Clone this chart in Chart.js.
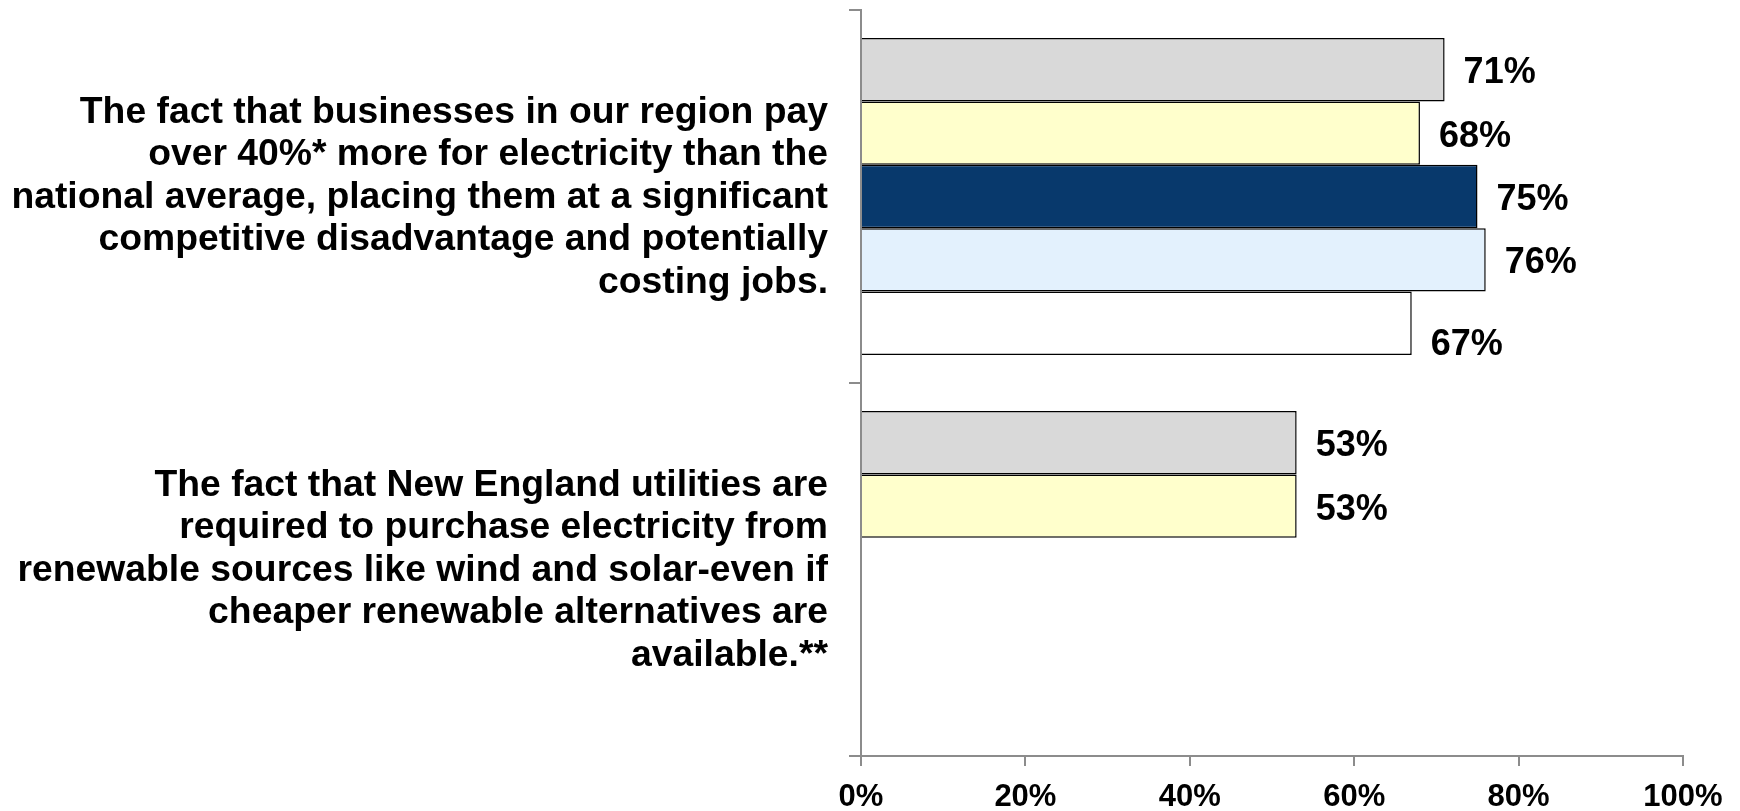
<!DOCTYPE html>
<html>
<head>
<meta charset="utf-8">
<script src="https://cdn.jsdelivr.net/npm/chart.js@4"></script>
<style>
  html, body { margin: 0; padding: 0; background: #ffffff; }
  #wrap { width: 1740px; height: 811px; }
</style>
</head>
<body>
<div id="wrap"><canvas id="chart" width="1740" height="811"></canvas></div>
<script>
// Statements (each one drawn as a multi-line category label)
const statements = [
  ["The fact that businesses in our region pay",
   "over 40%* more for electricity than the",
   "national average, placing them at a significant",
   "competitive disadvantage and potentially",
   "costing jobs."],
  ["The fact that New England utilities are",
   "required to purchase electricity from",
   "renewable sources like wind and solar-even if",
   "cheaper renewable alternatives are",
   "available.**"]
];

// Share of respondents (%) per group
const group1 = [71, 53];
const group2 = [68, 53];
const group3 = [75, null];
const group4 = [76, null];
const group5 = [67, null];

const xTicks = [0, 20, 40, 60, 80, 100];

const FONT = '"Liberation Sans", Arial, Helvetica, sans-serif';
const AXIS_GREY = '#8c8c8c';

// Percent labels just past the end of each bar
const valueLabels = {
  id: 'valueLabels',
  afterDatasetsDraw(chart, args, opts) {
    const ctx = chart.ctx;
    ctx.save();
    ctx.font = 'bold 36px ' + FONT;
    ctx.fillStyle = '#000000';
    ctx.textAlign = 'left';
    ctx.textBaseline = 'alphabetic';
    chart.data.datasets.forEach((ds, i) => {
      const meta = chart.getDatasetMeta(i);
      const shift = (opts.shiftY && opts.shiftY[i]) || 0;
      meta.data.forEach((bar, j) => {
        const v = ds.data[j];
        if (v === null || v === undefined) return;
        const p = bar.getProps(['x', 'y'], true);
        ctx.fillText(v + '%', p.x + 19, p.y + 13.5 + shift);
      });
    });
    ctx.restore();
  }
};

const mkSet = (label, data, fill) => ({
  label, data,
  backgroundColor: fill,
  borderColor: '#000000',
  borderWidth: 1.5,
  borderSkipped: 'start'
});

new Chart(document.getElementById('chart'), {
  type: 'bar',
  data: {
    labels: statements,
    datasets: [
      mkSet('Group 1', group1, '#d9d9d9'),
      mkSet('Group 2', group2, '#ffffcc'),
      mkSet('Group 3', group3, '#08396c'),
      mkSet('Group 4', group4, '#e3f1fd'),
      mkSet('Group 5', group5, '#ffffff')
    ]
  },
  options: {
    indexAxis: 'y',
    responsive: false,
    animation: false,
    devicePixelRatio: 1,
    layout: { padding: { top: 10, right: 57, left: 0, bottom: 0 } },
    datasets: { bar: { categoryPercentage: 0.85, barPercentage: 1.0 } },
    plugins: {
      legend: { display: false },
      tooltip: { enabled: false },
      valueLabels: { shiftY: [0, 0, 0, 0, 18] }
    },
    scales: {
      x: {
        type: 'linear',
        min: 0, max: 100,
        afterBuildTicks(scale) { scale.ticks = xTicks.map(v => ({ value: v })); },
        afterFit(scale) {
          scale.height = 55;
          scale.paddingLeft = 0; scale.paddingRight = 0;
        },
        ticks: {
          callback: v => v + '%',
          color: '#000000',
          font: { family: FONT, size: 31, weight: 'bold' },
          padding: 13,
          maxRotation: 0
        },
        grid: {
          drawOnChartArea: false,
          drawTicks: true,
          tickLength: 10,
          color: AXIS_GREY,
          lineWidth: 2
        },
        border: { display: true, color: AXIS_GREY, width: 2 }
      },
      y: {
        type: 'category',
        offset: true,
        afterFit(scale) {
          scale.width = 861;
          scale.paddingTop = 0; scale.paddingBottom = 0;
        },
        ticks: {
          color: '#000000',
          font: { family: FONT, size: 37.3, weight: 'bold', lineHeight: '42.5px' },
          padding: 21,
          labelOffset: 1,
          crossAlign: 'near'
        },
        grid: {
          offset: true,
          drawOnChartArea: false,
          drawTicks: true,
          tickLength: 12,
          color: AXIS_GREY,
          lineWidth: 2
        },
        border: { display: true, color: AXIS_GREY, width: 2 }
      }
    }
  },
  plugins: [valueLabels]
});
</script>
</body>
</html>
